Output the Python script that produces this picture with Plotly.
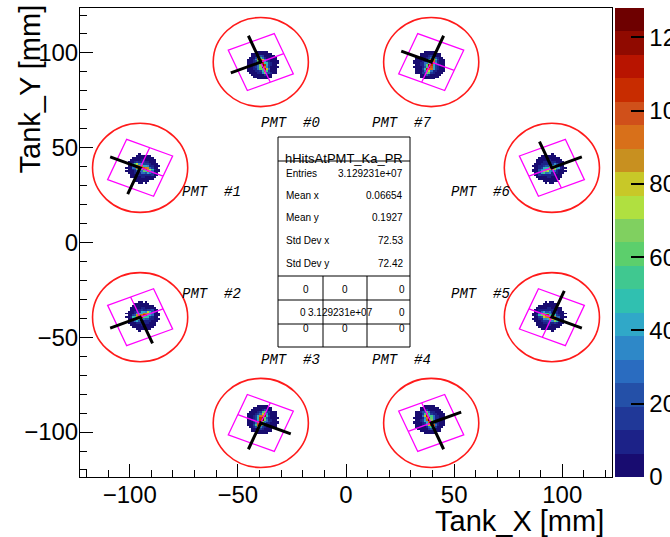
import numpy as np
import plotly.graph_objects as go

# ---------------- data ----------------
pmt_names = ["PMT  #0", "PMT  #1", "PMT  #2", "PMT  #3", "PMT  #4", "PMT  #5", "PMT  #6", "PMT  #7"]
pmt_x = [-39.4, -95.2, -95.2, -39.4, 39.4, 95.2, 95.2, 39.4]
pmt_y = [95.2, 39.4, -39.4, -95.2, -95.2, -39.4, 39.4, 95.2]
pmt_angle = [112.5, 157.5, 202.5, 247.5, 292.5, 337.5, 22.5, 67.5]
label_x = [-25.6, -62.2, -62.2, -25.6, 25.6, 62.2, 62.2, 25.6]
label_y = [62.8, 26.5, -27.0, -62.0, -62.0, -27.0, 26.5, 62.8]
blob_x = [-38.8, -93.9, -93.9, -38.8, 38.8, 93.9, 93.9, 38.8]
blob_y = [93.6, 38.9, -38.9, -93.6, -93.6, -38.9, 38.9, 93.6]
blob_peak = [1.0, 0.92, 0.88, 1.0, 0.97, 0.86, 0.72, 0.95]
circle_rx = 22.0
circle_ry = 23.5
square_side = 23.0
arm_len = 15.0

# hit template around each PMT: rows = tangential offset -7..7, cols = radial offset -7..7
blob_template = [
    [0, 0, 0, 0, 0, 2, 2, 3, 2, 2, 0, 0, 0, 0, 0],
    [0, 0, 0, 2, 3, 3, 4, 4, 4, 3, 3, 2, 0, 0, 0],
    [0, 0, 2, 3, 4, 5, 5, 6, 5, 5, 4, 3, 2, 0, 0],
    [0, 2, 3, 4, 6, 7, 8, 9, 8, 7, 6, 4, 3, 2, 0],
    [0, 3, 4, 6, 10, 13, 15, 16, 15, 13, 10, 6, 4, 3, 0],
    [2, 3, 8, 16, 28, 38, 44, 46, 44, 38, 28, 16, 8, 3, 2],
    [2, 6, 24, 55, 80, 95, 104, 108, 104, 96, 80, 56, 24, 6, 2],
    [3, 8, 30, 70, 100, 115, 122, 126, 124, 116, 100, 72, 30, 8, 3],
    [2, 5, 14, 32, 48, 58, 64, 66, 64, 58, 48, 32, 14, 5, 2],
    [2, 4, 6, 12, 18, 24, 28, 30, 28, 24, 18, 12, 6, 3, 2],
    [0, 3, 4, 6, 9, 11, 12, 13, 12, 11, 9, 6, 4, 3, 0],
    [0, 2, 3, 4, 6, 7, 8, 9, 8, 7, 6, 4, 3, 2, 0],
    [0, 0, 2, 3, 4, 5, 5, 6, 5, 5, 4, 3, 2, 0, 0],
    [0, 0, 0, 2, 3, 3, 4, 4, 3, 3, 3, 2, 0, 0, 0],
    [0, 0, 0, 0, 0, 2, 2, 3, 2, 0, 0, 0, 0, 0, 0],
]

palette = ["#180c70", "#1c2288", "#203898", "#2450a8", "#2a6cc0", "#2e88c8", "#30a8c8",
           "#30c0b0", "#40c890", "#5ccf6c", "#80d060", "#b0e040", "#c8c828", "#c89020",
           "#d8701a", "#d0501a", "#c82c00", "#b81400", "#900a00", "#6e0000"]
z_max = 128.0
cbar_ticks = [0, 20, 40, 60, 80, 100, 120]
x_ticks = [-100, -50, 0, 50, 100]
y_ticks = [-100, -50, 0, 50, 100]
x_range = [-123.0, 123.0]
y_range = [-123.7, 123.7]

stats_title = "hHitsAtPMT_Ka_PR"
stats_labels = ["Entries", "Mean x", "Mean y", "Std Dev x", "Std Dev y"]
stats_values = ["3.129231e+07", "0.06654", "0.1927", "72.53", "72.42"]
table_cells = [["0", "0", "0"], ["0", "3.129231e+07", "0"], ["0", "0", "0"]]

# ---------------- histogram grid ----------------
xc = np.arange(-122.5, 123.0, 1.0)
yc = np.arange(-123.5, 124.0, 1.0)
z = [[None] * len(xc) for _ in yc]
tmpl = np.array(blob_template, dtype=float)
half = tmpl.shape[0] // 2
for k in range(len(blob_x)):
    a = np.deg2rad(pmt_angle[k])
    ru = np.array([np.cos(a), np.sin(a)])
    tv = np.array([-np.sin(a), np.cos(a)])
    for j, yv in enumerate(yc):
        if abs(yv - blob_y[k]) > 11:
            continue
        for i, xv in enumerate(xc):
            if abs(xv - blob_x[k]) > 11:
                continue
            d = np.array([xv - blob_x[k], yv - blob_y[k]])
            u = d @ ru
            v = d @ tv
            iu = int(round(u)) + half
            iv = int(round(v)) + half
            if 0 <= iu < tmpl.shape[1] and 0 <= iv < tmpl.shape[0] and tmpl[iv, iu] > 0:
                val = tmpl[iv, iu]
                z[j][i] = float(val * (blob_peak[k] if val > 12 else 1.0))

cs = []
n = len(palette)
for i, c in enumerate(palette):
    cs.append([i / n, c])
    cs.append([(i + 1) / n, c])

# ---------------- geometry helpers ----------------
W, H = 670, 537
L, R, T, B = 80, 58, 8, 60
PW = W - L - R
PH = H - T - B


def px(xp):
    return (xp - L) / PW


def py(yp):
    return (H - B - yp) / PH


fig = go.Figure()
fig.add_trace(go.Heatmap(
    x=xc, y=yc, z=z, zmin=0, zmax=z_max, zsmooth=False,
    colorscale=cs, hoverinfo="skip",
    colorbar=dict(
        x=px(615), xanchor="left", xpad=0, y=0.5, yanchor="middle", ypad=0,
        len=1, lenmode="fraction", thickness=29, thicknessmode="pixels",
        outlinewidth=0, ticks="inside", ticklen=13, tickwidth=1.5, tickcolor="black",
        tickvals=cbar_ticks, tickfont=dict(family="Liberation Sans", size=24, color="black"),
    ),
))

shapes = []
for k in range(len(pmt_x)):
    cx, cy = pmt_x[k], pmt_y[k]
    shapes.append(dict(type="circle", xref="x", yref="y",
                       x0=cx - circle_rx, x1=cx + circle_rx, y0=cy - circle_ry, y1=cy + circle_ry,
                       line=dict(color="#ff1a1a", width=1.6)))
    a = np.deg2rad(pmt_angle[k])
    ru = np.array([np.cos(a), np.sin(a)])
    tv = np.array([-np.sin(a), np.cos(a)])
    c = np.array([cx, cy])
    h = square_side / 2
    corners = [c + h * ru + h * tv, c - h * ru + h * tv, c - h * ru - h * tv, c + h * ru - h * tv]
    p = "M " + " L ".join(f"{q[0]:.3f},{q[1]:.3f}" for q in corners) + " Z"
    m1a, m1b = c + h * ru, c - h * ru
    m2a, m2b = c + h * tv, c - h * tv
    p += f" M {m1a[0]:.3f},{m1a[1]:.3f} L {m1b[0]:.3f},{m1b[1]:.3f}"
    p += f" M {m2a[0]:.3f},{m2a[1]:.3f} L {m2b[0]:.3f},{m2b[1]:.3f}"
    shapes.append(dict(type="path", xref="x", yref="y", path=p,
                       line=dict(color="#ff00ff", width=1.3)))
    e1 = c + arm_len * ru
    e2 = c + arm_len * tv
    shapes.append(dict(type="path", xref="x", yref="y",
                       path=f"M {e1[0]:.3f},{e1[1]:.3f} L {cx:.3f},{cy:.3f} L {e2[0]:.3f},{e2[1]:.3f}",
                       line=dict(color="black", width=3)))

# stats box
bx0, bx1, by0, by1 = 278, 410, 137, 347
shapes.append(dict(type="rect", xref="paper", yref="paper", x0=px(bx0), x1=px(bx1), y0=py(by1), y1=py(by0),
                   line=dict(color="black", width=1), fillcolor="white", layer="above"))
for yl in [161, 276, 300, 324]:
    shapes.append(dict(type="line", xref="paper", yref="paper", x0=px(bx0), x1=px(bx1), y0=py(yl), y1=py(yl),
                       line=dict(color="black", width=1)))
for xl in [323, 367]:
    shapes.append(dict(type="line", xref="paper", yref="paper", x0=px(xl), x1=px(xl), y0=py(276), y1=py(by1),
                       line=dict(color="black", width=1)))

annotations = []
for k in range(len(pmt_names)):
    annotations.append(dict(x=label_x[k], y=label_y[k], xref="x", yref="y", text=pmt_names[k],
                            showarrow=False, font=dict(family="Liberation Mono", size=14, color="black", style="italic")))
annotations.append(dict(x=px(344), y=py(149), xref="paper", yref="paper", text=stats_title, showarrow=False,
                        font=dict(family="Liberation Sans", size=13, color="black")))
row_y = [173, 195.5, 218, 240.5, 263]
for lab, val, yy in zip(stats_labels, stats_values, row_y):
    annotations.append(dict(x=px(284), y=py(yy), xref="paper", yref="paper", text=lab, showarrow=False,
                            xanchor="left", font=dict(family="Liberation Sans", size=10, color="black")))
    annotations.append(dict(x=px(405), y=py(yy), xref="paper", yref="paper", text=val, showarrow=False,
                            xanchor="right", font=dict(family="Liberation Sans", size=10, color="black")))
table_y = [289, 312, 336]
table_x = [[306, 345, 402], [303, 340, 402], [306, 345, 402]]
for r, yy in enumerate(table_y):
    for cidx in range(3):
        txt = table_cells[r][cidx]
        annotations.append(dict(x=px(table_x[r][cidx]), y=py(yy), xref="paper", yref="paper", text=txt,
                                showarrow=False,
                                font=dict(family="Liberation Sans", size=10, color="black")))

annotations.append(dict(x=px(606), y=py(521), xref="paper", yref="paper", text="Tank_X [mm]", showarrow=False,
                        xanchor="right", yanchor="middle", font=dict(family="Liberation Sans", size=29, color="black")))
annotations.append(dict(x=px(29), y=py(3), xref="paper", yref="paper", text="Tank_Y [mm]", showarrow=False,
                        textangle=-90, xanchor="center", yanchor="top",
                        font=dict(family="Liberation Sans", size=29, color="black")))

axis_common = dict(showline=True, linecolor="black", linewidth=1, mirror=True, ticks="inside",
                   ticklen=13, tickwidth=1, tickcolor="black", showgrid=False, zeroline=False,
                   tickfont=dict(family="Liberation Sans", size=24, color="black"),
                   minor=dict(ticks="inside", ticklen=7, dtick=10, tickcolor="black", showgrid=False))
fig.update_layout(
    width=W, height=H, margin=dict(l=L, r=R, t=T, b=B, autoexpand=False),
    paper_bgcolor="white", plot_bgcolor="white",
    xaxis=dict(range=x_range, tickvals=x_ticks, automargin=False, ticklabelstandoff=-4, **axis_common),
    yaxis=dict(range=y_range, tickvals=y_ticks, automargin=False, ticklabelstandoff=-4, **axis_common),
    shapes=shapes, annotations=annotations, showlegend=False,
)
fig.write_html("out.html", config={"displayModeBar": False},
               post_script="document.body.style.margin='0';document.body.style.overflow='hidden';")
